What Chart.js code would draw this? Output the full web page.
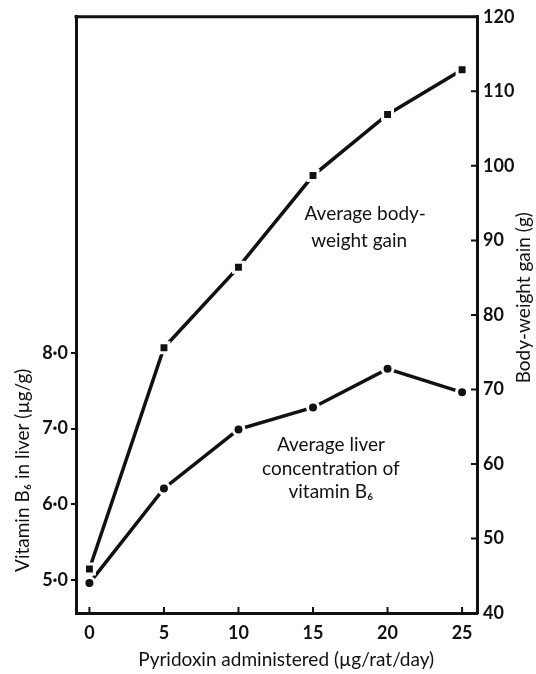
<!DOCTYPE html>
<html>
<head>
<meta charset="utf-8">
<script src="https://cdn.jsdelivr.net/npm/chart.js@4.4.1/dist/chart.umd.min.js"></script>
<style>
  html, body { margin: 0; padding: 0; background: #fff; }
  #wrap { width: 536px; height: 674px; }
</style>
</head>
<body>
<div id="wrap"><canvas id="b6_chart" width="536" height="674"></canvas></div>
<script>
// pyridoxin dose (ug/rat/day)
var doses = [0, 5, 10, 15, 20, 25];
// body-weight gain (g), right axis
var weightGain = [45.9, 75.6, 86.4, 98.7, 106.9, 112.9];
// vitamin B6 in liver (ug/g), left axis
var liverB6 = [4.96, 6.21, 6.99, 7.28, 7.79, 7.48];

var xTicks = [0, 5, 10, 15, 20, 25];
var leftTicks = [5, 6, 7, 8];
var rightTicks = [40, 50, 60, 70, 80, 90, 100, 110, 120];

var FONT = "Lato, 'Open Sans', sans-serif";
var INK = "#111";

function pts(ys) {
  return doses.map(function (d, i) { return { x: d, y: ys[i] }; });
}

// frame, inward ticks, axis titles and the two curve labels
var decor = {
  id: "decor",
  afterDraw: function (chart) {
    var c = chart.ctx, a = chart.chartArea;
    var sx = chart.scales.x, sr = chart.scales.y2;
    c.save();
    c.strokeStyle = INK;
    c.lineWidth = 3;
    c.beginPath();
    c.moveTo(a.left - 1.5, a.top);
    c.lineTo(a.right + 1.5, a.top);
    c.stroke();

    c.lineWidth = 2;
    c.beginPath();
    xTicks.forEach(function (t) {
      var px = sx.getPixelForValue(t);
      c.moveTo(px, a.bottom);
      c.lineTo(px, a.bottom - 6);
    });
    rightTicks.forEach(function (t) {
      var py = sr.getPixelForValue(t);
      c.moveTo(a.right, py);
      c.lineTo(a.right - 6, py);
    });
    c.stroke();

    c.fillStyle = INK;
    c.font = "19px " + FONT;
    c.textAlign = "center";
    c.textBaseline = "middle";

    // x title
    c.fillText("Pyridoxin administered (\u00b5g/rat/day)", sx.getPixelForValue(13.2), a.bottom + 47);

    // left title
    c.save();
    c.translate(23, chart.scales.y.getPixelForValue(6.45));
    c.rotate(-Math.PI / 2);
    c.fillText("Vitamin B\u2086 in liver (\u00b5g/g)", 0, 0);
    c.restore();

    // right title
    c.save();
    c.translate(524, sr.getPixelForValue(82.3));
    c.rotate(-Math.PI / 2);
    c.fillText("Body-weight gain (g)", 0, 0);
    c.restore();

    // curve labels
    c.fillText("Average body-", sx.getPixelForValue(18.5), sr.getPixelForValue(93.5));
    c.fillText("weight gain", sx.getPixelForValue(18.1), sr.getPixelForValue(90.0));
    c.fillText("Average liver", sx.getPixelForValue(16.2), sr.getPixelForValue(62.5));
    c.fillText("concentration of", sx.getPixelForValue(16.2), sr.getPixelForValue(59.4));
    c.fillText("vitamin B\u2086", sx.getPixelForValue(16.2), sr.getPixelForValue(56.2));
    c.restore();
  },
};

var ctx = document.getElementById("b6_chart").getContext("2d");
var b6_chart = new Chart(ctx, {
  type: "line",
  data: {
    datasets: [
      {
        label: "Average body-weight gain",
        data: pts(weightGain),
        yAxisID: "y2",
        borderColor: INK,
        borderWidth: 3.5,
        pointStyle: "rect",
        pointRadius: 7,
        pointBackgroundColor: INK,
        pointBorderColor: "#fff",
        pointBorderWidth: 3,
        tension: 0,
      },
      {
        label: "Average liver concentration of vitamin B6",
        data: pts(liverB6),
        yAxisID: "y",
        borderColor: INK,
        borderWidth: 3.5,
        pointStyle: "circle",
        pointRadius: 5.5,
        pointBackgroundColor: INK,
        pointBorderColor: "#fff",
        pointBorderWidth: 3,
        tension: 0,
      },
    ],
  },
  options: {
    responsive: false,
    animation: false,
    layout: { padding: { top: 15, left: 0, right: 0, bottom: 0 } },
    plugins: {
      legend: { display: false },
      tooltip: { enabled: false },
    },
    scales: {
      x: {
        type: "linear",
        min: -0.9,
        max: 26,
        afterBuildTicks: function (s) {
          s.ticks = xTicks.map(function (v) { return { value: v }; });
        },
        afterFit: function (s) { s.height = 61; },
        grid: { display: false, drawTicks: false },
        border: { display: true, color: INK, width: 3 },
        ticks: { color: INK, padding: 9, font: { family: FONT, size: 18, weight: "bold" } },
      },
      y: {
        position: "left",
        min: 4.565,
        max: 12.44,
        afterBuildTicks: function (s) {
          s.ticks = leftTicks.map(function (v) { return { value: v }; });
        },
        afterFit: function (s) { s.width = 76; },
        grid: { display: true, drawOnChartArea: false, color: INK, lineWidth: 2, tickLength: 5 },
        border: { display: true, color: INK, width: 3 },
        ticks: {
          color: INK,
          padding: 3,
          font: { family: FONT, size: 18, weight: "bold" },
          callback: function (v) { return v.toFixed(1).replace(".", "\u00b7"); },
        },
      },
      y2: {
        position: "right",
        min: 40,
        max: 120,
        afterBuildTicks: function (s) {
          s.ticks = rightTicks.map(function (v) { return { value: v }; });
        },
        afterFit: function (s) { s.width = 59; },
        grid: { display: false, drawTicks: false },
        border: { display: true, color: INK, width: 3 },
        ticks: { color: INK, padding: 6, font: { family: FONT, size: 18, weight: "bold" } },
      },
    },
  },
  plugins: [decor],
});
</script>
</body>
</html>
